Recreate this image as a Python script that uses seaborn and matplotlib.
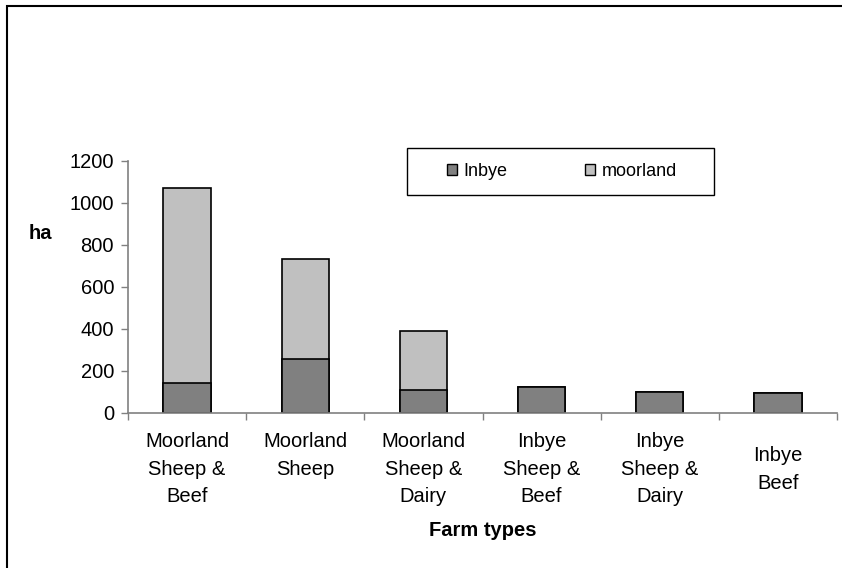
import numpy as np
import matplotlib
matplotlib.use('Agg')
import matplotlib.pyplot as plt
import matplotlib.transforms as mtransforms
import seaborn as sns
import pandas as pd
from matplotlib.patches import Rectangle, Patch

# data
farm_types = ['Moorland\nSheep &\nBeef', 'Moorland\nSheep', 'Moorland\nSheep &\nDairy',
              'Inbye\nSheep &\nBeef', 'Inbye\nSheep &\nDairy', 'Inbye\nBeef']
inbye = [144, 258, 109, 124, 101, 95]
moorland = [927, 475, 281, 0, 0, 0]
y_ticks = [0, 200, 400, 600, 800, 1000, 1200]

sns.set_style('white')
plt.rcParams['font.family'] = ['Liberation Sans', 'DejaVu Sans']
plt.rcParams['text.color'] = 'black'
plt.rcParams['axes.labelcolor'] = 'black'
plt.rcParams['xtick.color'] = 'black'
plt.rcParams['ytick.color'] = 'black'

df = pd.DataFrame({'farm': farm_types, 'Inbye': inbye, 'moorland': moorland})
df['total'] = df['Inbye'] + df['moorland']

fig = plt.figure(figsize=(8.42, 5.68), dpi=100)
ax = fig.add_axes([128 / 842, 155 / 568, 709 / 842, 252 / 568])

# stacked: total first (moorland colour), then inbye over it
sns.barplot(data=df, x='farm', y='total', color='#C0C0C0', saturation=1,
            width=0.4, edgecolor='black', linewidth=1.2, ax=ax)
sns.barplot(data=df, x='farm', y='Inbye', color='#808080', saturation=1,
            width=0.4, edgecolor='black', linewidth=1.2, ax=ax)

ax.set_xlim(-0.5, 5.5)
ax.set_ylim(0, 1200)
ax.set_yticks(y_ticks)
ax.tick_params(axis='y', labelsize=14.5, length=5, width=1, color='#808080',
               labelcolor='black', pad=5, left=True, direction='out')
ax.tick_params(axis='x', which='major', labelsize=14.5, length=0, pad=14,
               labelcolor='black')
ax.set_xticks(np.arange(-0.5, 6, 1), minor=True)
ax.tick_params(axis='x', which='minor', length=5, width=1, color='#808080',
               bottom=True, direction='out')
labels = ax.get_xticklabels()
for lbl in labels:
    lbl.set_linespacing(1.55)
    lbl.set_multialignment('center')
# two-line "Inbye Beef" sits vertically centred in the reference
labels[-1].set_transform(labels[-1].get_transform() +
                         mtransforms.ScaledTranslation(0, -0.14, fig.dpi_scale_trans))

for s in ['top', 'right']:
    ax.spines[s].set_visible(False)
for s in ['left', 'bottom']:
    ax.spines[s].set_color('#808080')
    ax.spines[s].set_linewidth(1.2)

ax.set_ylabel('ha', rotation=0, fontsize=14.5, fontweight='bold', va='center', ha='center')
ax.yaxis.set_label_coords(-0.124, 0.714)
ax.set_xlabel('Farm types', fontsize=14.5, fontweight='bold', va='center')
ax.xaxis.set_label_coords(0.5, -0.468)

# legend
handles = [Patch(facecolor='#808080', edgecolor='black', linewidth=1),
           Patch(facecolor='#C0C0C0', edgecolor='black', linewidth=1)]
fig.legend(handles, ['Inbye', 'moorland'], ncol=2, frameon=False, fontsize=13,
           loc='center', bbox_to_anchor=(562 / 842, 1 - 171.5 / 568),
           handlelength=0.55, handleheight=0.55, handletextpad=0.35,
           columnspacing=4.3)
fig.patches.append(Rectangle((407 / 842, 1 - 195 / 568), 307 / 842, 47 / 568,
                             transform=fig.transFigure, fill=False,
                             edgecolor='black', linewidth=1))

# outer chart border
fig.patches.append(Rectangle((7 / 842, -0.1), 1.2, 1.1 - 6 / 568,
                             transform=fig.transFigure, fill=False,
                             edgecolor='black', linewidth=1.5))

fig.savefig('out.png', dpi=100)
